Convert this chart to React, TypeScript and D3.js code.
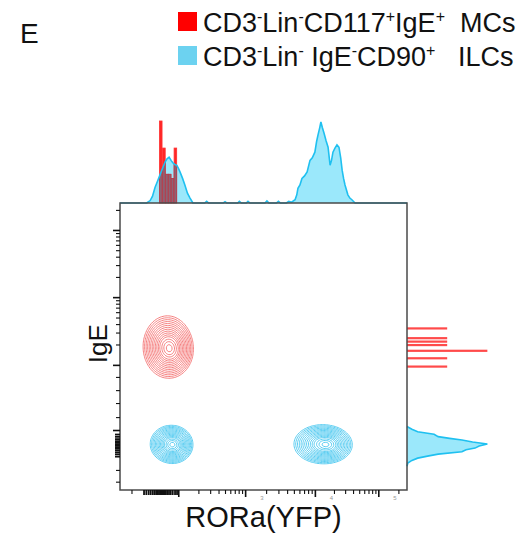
import React, { useEffect, useRef } from "react";
import * as d3 from "d3";

// display units: 0..100 across each axis (channel scale of the flow plot)
const xMajor = [20.3, 43.6, 67.9, 90.0];
const xExtra = [4, 97];
const xDense = [8.2, 9, 9.8, 10.5, 11.2, 11.8, 12.4, 12.9, 13.4, 13.8, 14.2, 14.6, 15, 15.4, 15.8, 16.3, 16.9, 17.5, 18.2, 19, 19.7];
const yMajor = [20.9, 43.6, 67.2, 90.6];
const yLowMinor = [25.4, 30.3, 34.8, 39.4];
const yExtra = [2.9, 7, 97.6];
const yDense = [11.8, 12.6, 13.3, 14, 14.6, 15.1, 15.6, 16.1, 16.6, 17.2, 17.9, 18.7, 19.5];
const xTickLabels = ["3", "4", "5"];

// top histogram, RORa(YFP)
const topBlueX = [0, 9.3, 10.5, 11.3, 12.2, 13.0, 13.9, 14.8, 15.7, 16.4, 17.1, 17.8, 18.4, 19.1, 19.8, 20.4, 20.9, 21.8, 22.6, 23.5, 24.4, 25.4,
  29.5, 30.2, 30.9, 36, 36.6, 37.2, 41, 41.6, 42.3, 44, 44.6, 45.3, 50.5, 51.2, 51.9, 54.5, 55.2, 55.9,
  58, 58.8, 59.8, 61, 61.6, 62.0, 62.7, 63.4, 64.3, 65.2, 65.7, 66.2, 67.0, 67.9, 68.5, 69, 69.6, 70, 70.5, 71.1, 71.8, 72.5, 73.2, 73.7,
  74.2, 74.9, 75.6, 76.3, 76.9, 77.4, 77.9, 78.4, 79.4, 80.1, 80.8, 81.9, 100];
const topBlueY = [0, 0, 3, 8, 19, 26, 34, 42, 50, 54, 56, 52, 49, 47, 46, 42, 38, 30, 22, 12, 6, 0,
  0, 2, 0, 0, 1.5, 0, 0, 2, 0, 0, 2, 0, 0, 2.5, 0, 0, 2, 0,
  0, 2, 1, 4, 10, 18, 22, 30, 33, 38, 45, 52, 55, 62, 75, 83, 92, 99, 92, 85, 76, 68, 46, 52,
  62, 67, 71, 68, 55, 40, 30, 22, 10, 6, 4, 0, 0];
const topRedX = [14.2, 15.3, 16.3, 17.3, 18.3, 19.3];
const topRedY = [100, 67, 35, 35, 30, 67];

// right histogram, IgE
const rightBlueY = [8.3, 9.4, 10.3, 11.1, 11.8, 12.5, 13.3, 14.0, 14.6, 15.3, 16.0, 16.7, 17.4, 18.0, 18.6, 19.4, 20.3, 21.2, 22.1];
const rightBlueX = [0, 1, 6, 13, 25, 38, 67, 72, 83, 88, 98, 80, 67, 52, 38, 33, 13, 6, 0];
const rightRedY = [56.3, 52.9, 51.7, 50.5, 48.5, 45.9, 43.0];
const rightRedX = [49, 49, 49, 49, 98, 49, 49];

// contour populations (centre, spread in display units, weight)
const mcCells = [
  { cx: 16.5, cy: 50.0, sx: 3.4, sy: 4.3, w: 1 },
  { cx: 18.3, cy: 48.4, sx: 2.9, sy: 3.5, w: 0.45 },
];
const ilcLowCells = [
  { cx: 17.8, cy: 16.0, sx: 2.9, sy: 2.6, w: 1 },
  { cx: 19.2, cy: 15.3, sx: 2.4, sy: 2.3, w: 0.35 },
];
const ilcHighCells = [
  { cx: 70.3, cy: 16.0, sx: 3.9, sy: 2.7, w: 1 },
  { cx: 73.4, cy: 15.6, sx: 3.0, sy: 2.3, w: 0.5 },
];
const contourSigmas = [0.3, 0.55, 0.75, 0.95, 1.1, 1.25, 1.4, 1.55, 1.7, 1.85, 2.0, 2.15, 2.3, 2.45, 2.6];

const legend1 = [["CD3", 0], ["-", 1], ["Lin", 0], ["-", 1], ["CD117", 0], ["+", 1], ["IgE", 0], ["+", 1], ["  MCs", 0]];
const legend2 = [["CD3", 0], ["-", 1], ["Lin", 0], ["-", 1], [" IgE", 0], ["-", 1], ["CD90", 0], ["+", 1], ["   ILCs", 0]];

const box = { left: 120, top: 203, right: 407, bottom: 490 };
const x = d3.scaleLinear().domain([0, 100]).range([box.left, box.right]);
const y = d3.scaleLinear().domain([0, 100]).range([box.bottom, box.top]);
const topH = d3.scaleLinear().domain([0, 100]).range([box.top, box.top - 82]);
const rightW = d3.scaleLinear().domain([0, 100]).range([box.right, box.right + 82]);

const STEP = 0.5;
const N = 201;

function logMinors(a: number, b: number) {
  const out: number[] = [];
  for (let k = 2; k <= 9; k++) out.push(a + (b - a) * Math.log10(k));
  return out;
}

function contourPaths(cells: typeof mcCells) {
  const vals = new Float64Array(N * N);
  let max = 0;
  for (let j = 0; j < N; j++) {
    for (let i = 0; i < N; i++) {
      const u = i * STEP, v = j * STEP;
      let s = 0;
      cells.forEach((c) => {
        s += c.w * Math.exp(-((u - c.cx) ** 2) / (2 * c.sx * c.sx) - ((v - c.cy) ** 2) / (2 * c.sy * c.sy));
      });
      vals[j * N + i] = s;
      if (s > max) max = s;
    }
  }
  const thresholds = contourSigmas.map((r) => max * Math.exp(-(r * r) / 2));
  const polys = d3.contours().size([N, N]).thresholds(thresholds)(Array.from(vals));
  const proj = d3.geoTransform({
    point(px: number, py: number) {
      (this as any).stream.point(x((px - 0.5) * STEP), y((py - 0.5) * STEP));
    },
  });
  const path = d3.geoPath(proj);
  return polys.map((p) => path(p as any) || "");
}

function Legend({ items, ty, color }: { items: any[]; ty: number; color: string }) {
  return (
    <g>
      <rect x={178} y={ty - 20} width={19} height={19} fill={color} />
      <text x={203} y={ty} fontFamily="Liberation Sans, Arial, sans-serif" fontSize={27} fill="#111" style={{ whiteSpace: "pre" }}>
        {items.map(([t, sup], i) => (
          <tspan key={i} fontSize={sup ? 16 : 27} dy={sup ? -10 : i > 0 && items[i - 1][1] ? 10 : 0}>
            {t}
          </tspan>
        ))}
      </text>
    </g>
  );
}

export default function App() {
  const xAxisRef = useRef<SVGGElement>(null);
  const yAxisRef = useRef<SVGGElement>(null);

  useEffect(() => {
    const gx = d3.select(xAxisRef.current);
    const gy = d3.select(yAxisRef.current);
    gx.selectAll("*").remove();
    gy.selectAll("*").remove();
    const xMinor = [...logMinors(xMajor[0], xMajor[1]), ...logMinors(xMajor[1], xMajor[2]), ...logMinors(xMajor[2], xMajor[3]), ...xExtra];
    const yMinor = [...yLowMinor, ...logMinors(yMajor[1], yMajor[2]), ...logMinors(yMajor[2], yMajor[3]), ...yExtra];
    const sets: [any, number[], number, number][] = [
      [gx, xMajor, 7, 1.6],
      [gx, xMinor, 4, 1.1],
      [gx, xDense, 5, 1.8],
    ];
    sets.forEach(([g, vals, len, sw]) => {
      const a = g.append("g").call(d3.axisBottom(x).tickValues(vals).tickSize(len).tickFormat(() => ""));
      a.select(".domain").remove();
      a.selectAll("line").attr("stroke", "#111").attr("stroke-width", sw);
    });
    const ysets: [any, number[], number, number][] = [
      [gy, yMajor, 7, 1.6],
      [gy, yMinor, 4, 1.1],
      [gy, yDense, 5, 1.8],
    ];
    ysets.forEach(([g, vals, len, sw]) => {
      const a = g.append("g").call(d3.axisLeft(y).tickValues(vals).tickSize(len).tickFormat(() => ""));
      a.select(".domain").remove();
      a.selectAll("line").attr("stroke", "#111").attr("stroke-width", sw);
    });
  }, []);

  const topPts = topBlueX.map((v, i) => [v, topBlueY[i]] as [number, number]);
  const topArea = d3.area<[number, number]>().x((d) => x(d[0])).y0(topH(0)).y1((d) => topH(d[1]))(topPts) || "";
  const topLine = d3.line<[number, number]>().x((d) => x(d[0])).y((d) => topH(d[1]))(topPts) || "";

  const rightPts = rightBlueY.map((v, i) => [v, rightBlueX[i]] as [number, number]);
  const rightArea = d3.area<[number, number]>().y((d) => y(d[0])).x0(rightW(0)).x1((d) => rightW(d[1]))(rightPts) || "";
  const rightLine = d3.line<[number, number]>().y((d) => y(d[0])).x((d) => rightW(d[1]))(rightPts) || "";

  const mcPaths = contourPaths(mcCells);
  const ilcLowPaths = contourPaths(ilcLowCells);
  const ilcHighPaths = contourPaths(ilcHighCells);

  const barW = x(0.9) - x(0);
  const topRedBars = (fill: string, stroke: string) =>
    topRedX.map((v, i) => (
      <rect key={i} x={x(v) - barW / 2} y={topH(topRedY[i])} width={barW} height={topH(0) - topH(topRedY[i])} fill={fill} stroke={stroke} strokeWidth={0.8} />
    ));

  return (
    <svg width={526} height={536} style={{ position: "absolute", left: 0, top: 0, background: "#fff" }}>
      <defs>
        <clipPath id="blueTop">
          <path d={topArea} />
        </clipPath>
      </defs>
      <text x={20} y={43} fontFamily="Liberation Sans, Arial, sans-serif" fontSize={28} fill="#111">E</text>
      <Legend items={legend1} ty={32} color="#ff0000" />
      <Legend items={legend2} ty={66} color="#6cd2f0" />

      {/* top histogram */}
      <path d={topArea} fill="#9be8fb" />
      <g>{topRedBars("#ff2626", "#ff3030")}</g>
      <g clipPath="url(#blueTop)">{topRedBars("#8d6374", "#b04050")}</g>
      <path d={topLine} fill="none" stroke="#1fc0f0" strokeWidth={1.6} />

      {/* right histogram */}
      <path d={rightArea} fill="#9be8fb" />
      <path d={rightLine} fill="none" stroke="#1fc0f0" strokeWidth={1.6} />
      {rightRedY.map((v, i) => (
        <rect key={i} x={rightW(0)} y={y(v) - 1.1} width={rightW(rightRedX[i]) - rightW(0)} height={2.2} fill="#ff2a2a" opacity={0.85} />
      ))}

      {/* contours */}
      <g fill="none" strokeWidth={0.85}>
        {mcPaths.map((d, i) => <path key={"m" + i} d={d} stroke="#f36a6a" />)}
        {ilcLowPaths.map((d, i) => <path key={"l" + i} d={d} stroke="#3fc4ef" />)}
        {ilcHighPaths.map((d, i) => <path key={"h" + i} d={d} stroke="#3fc4ef" />)}
      </g>

      <rect x={box.left} y={box.top} width={box.right - box.left} height={box.bottom - box.top} fill="none" stroke="#4a4a4a" strokeWidth={1.5} />
      <g ref={xAxisRef} transform={`translate(0,${box.bottom})`} />
      <g ref={yAxisRef} transform={`translate(${box.left},0)`} />
      {xTickLabels.map((t, i) => (
        <text key={t} x={x(xMajor[i + 1]) + 15} y={500} fontSize={6} fill="#999" fontFamily="Liberation Sans, Arial, sans-serif">{t}</text>
      ))}

      <text x={x(50)} y={527} textAnchor="middle" fontFamily="Liberation Sans, Arial, sans-serif" fontSize={29} fill="#111">RORa(YFP)</text>
      <text transform={`translate(107,${y(51)}) rotate(-90)`} textAnchor="middle" fontFamily="Liberation Sans, Arial, sans-serif" fontSize={26} fill="#111">IgE</text>
    </svg>
  );
}
